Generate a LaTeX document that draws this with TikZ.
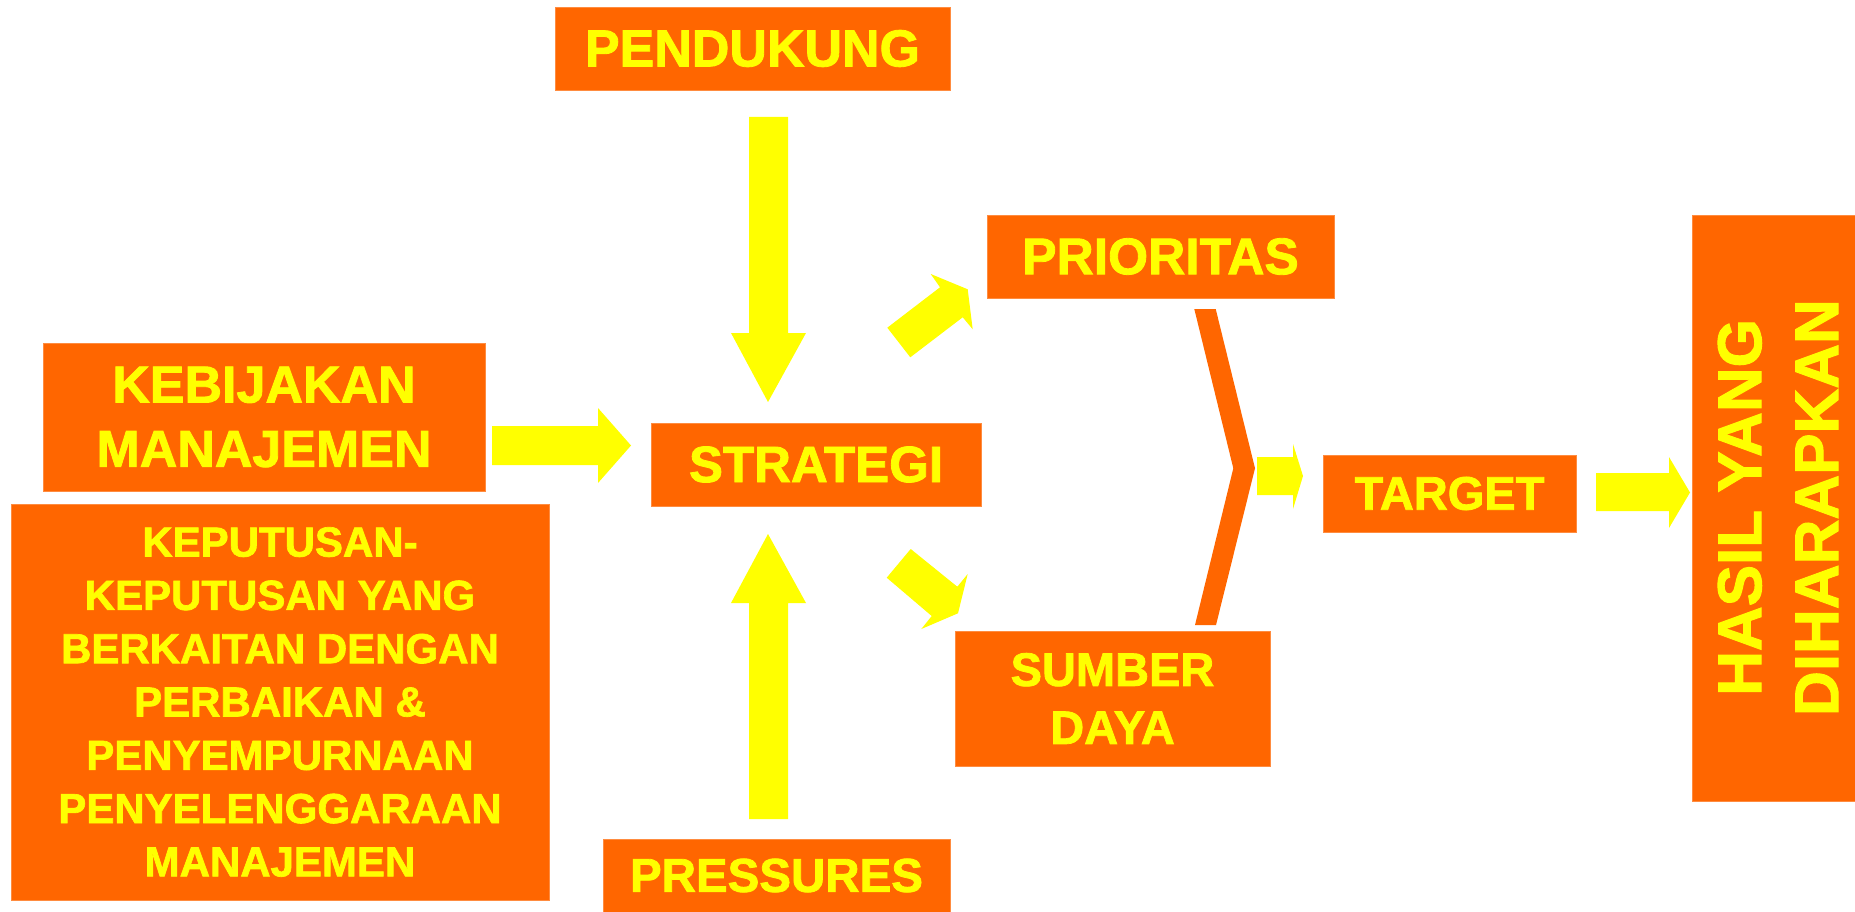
\documentclass[tikz,border=0pt]{standalone}
\usepackage{fontspec}
\setmainfont{Liberation Sans}[BoldFeatures={FakeBold=1.6}]
\definecolor{orgc}{HTML}{FF6600}
\definecolor{yelc}{HTML}{FFFF00}
\newcommand\fsz[2]{\fontsize{#1}{#2}\selectfont\bfseries}
\begin{document}
\begin{tikzpicture}[x=1pt,y=-1pt,
  box/.style={fill=orgc, draw=orgc!75!white, line width=0.6pt, inner sep=0pt, outer sep=0pt, text=yelc, align=center},
  lbl/.style={inner sep=0pt, outer sep=0pt, text=yelc, align=center},
  blk/.style={fill=yelc},
  chev/.style={fill=orgc}]
\useasboundingbox (0,0) rectangle (1855,912);
\fill[white] (0,0) rectangle (1855,912);

% boxes
\node[box, minimum width=395pt, minimum height=83pt, font=\fsz{52}{64}] (pend) at (752.5,48.5) {PENDUKUNG};
\node[box, minimum width=347pt, minimum height=83pt, font=\fsz{51.5}{64}] (prio) at (1160.5,256.5) {PRIORITAS};
\node[box, minimum width=442pt, minimum height=148pt, font=\fsz{52}{64.3}] (kebi) at (264,417) {KEBIJAKAN\\MANAJEMEN};
\node[box, minimum width=330pt, minimum height=83pt, font=\fsz{51}{64}] (stra) at (816,464.5) {STRATEGI};
\node[box, minimum width=538pt, minimum height=396pt, font=\fsz{42}{53.3}] (kepu) at (280,702)
  {KEPUTUSAN-\\KEPUTUSAN YANG\\BERKAITAN DENGAN\\PERBAIKAN \&\\PENYEMPURNAAN\\PENYELENGGARAAN\\MANAJEMEN};
\node[box, minimum width=315pt, minimum height=135pt, font=\fsz{47}{58}] (sumb) at (1112.5,698.5) {SUMBER\\DAYA};
\node[box, minimum width=347pt, minimum height=73pt, font=\fsz{47.5}{58}] (pres) at (776.5,875.5) {PRESSURES};
\node[box, minimum width=253pt, minimum height=77pt, font=\fsz{47}{58}] (targ) at (1449.5,493.5) {TARGET};
\node[box, minimum width=165pt, minimum height=586pt] (hasb) at (1774.5,508) {};
\node[lbl, rotate=90, font=\fsz{62}{77}] (hast) at (1778,507.5) {HASIL YANG\\DIHARAPKAN};

% block arrows
\fill[blk] (749,117) -- (788,117) -- (788,333) -- (806,333) -- (768,402) -- (731,333) -- (749,333) -- cycle;
\fill[blk] (749,819) -- (788,819) -- (788,603) -- (806,603) -- (768,534) -- (731,603) -- (749,603) -- cycle;
\fill[blk] (492,426) -- (598,426) -- (598,408) -- (631,445.5) -- (598,483) -- (598,465) -- (492,465) -- cycle;
\fill[blk] (887.3,327.7) -- (940,287.3) -- (930.7,274) -- (967.7,289.3) -- (972.7,329.3) -- (962.7,317.3) -- (910.3,357.3) -- cycle;
\fill[blk] (886.7,577.7) -- (910.7,549) -- (957.3,586.7) -- (967.7,574) -- (958,613.3) -- (921.3,629) -- (931.7,616) -- cycle;
\fill[blk] (1257,457) -- (1293,457) -- (1293,444) -- (1303,476) -- (1293,509) -- (1293,495) -- (1257,495) -- cycle;
\fill[blk] (1596,473) -- (1669,473) -- (1669,457) -- (1690,492.5) -- (1669,528) -- (1669,511) -- (1596,511) -- cycle;

% chevron
\fill[chev] (1194.3,309) -- (1215.7,309) -- (1255,468.3) -- (1216,625) -- (1195,625) -- (1233.3,468.3) -- cycle;
\end{tikzpicture}
\end{document}
